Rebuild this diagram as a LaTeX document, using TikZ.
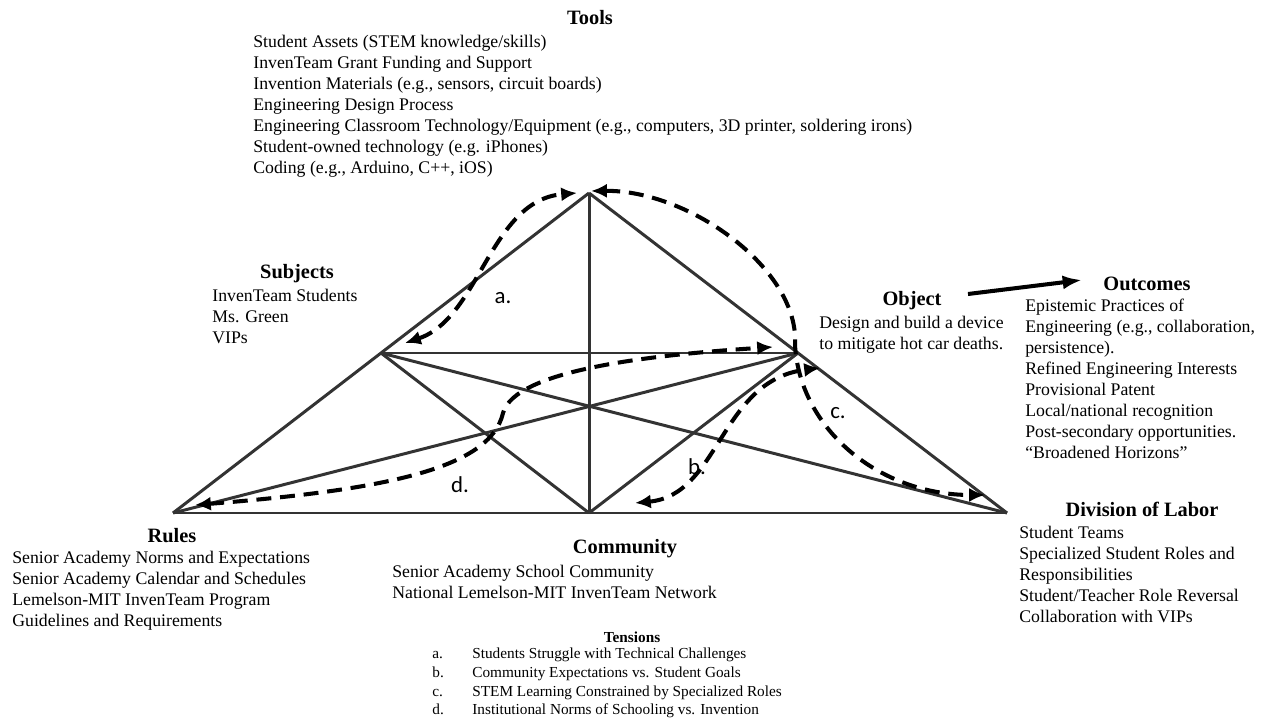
\documentclass[tikz,border=0pt]{standalone}
\usepackage{fontspec}
\setmainfont{Liberation Serif}
\newfontfamily\lblfont{Carlito}
\usetikzlibrary{arrows.meta}
\tikzset{
  frameline/.style={line width=1.7pt, draw=black!80},
  tensarrow/.style={line width=2.3pt, dash pattern=on 8.5pt off 5pt, {Latex[length=9pt,width=8pt]}-{Latex[length=9pt,width=8pt]}},
  ttl/.style={font=\fontsize{11.6}{12}\selectfont\bfseries, inner sep=0pt, anchor=center},
  lst/.style={font=\fontsize{10.1}{11.9}\selectfont, align=left, inner sep=0pt, anchor=north west},
  tlst/.style={font=\fontsize{8.7}{10.7}\selectfont, inner sep=0pt, anchor=north west},
  lbl/.style={font=\lblfont\fontsize{13}{14}\selectfont, inner sep=0pt},
}
\begin{document}
\begin{tikzpicture}[x=0.02cm,y=-0.02cm]
\useasboundingbox (0,0) rectangle (1263,719);
% vertices
\coordinate (T) at (589,193);
\coordinate (S) at (381,353);
\coordinate (O) at (798,353);
\coordinate (R) at (173,513);
\coordinate (C) at (589,513);
\coordinate (D) at (1007,513);
% frame
\draw[frameline] (T) -- (R);
\draw[frameline] (T) -- (D);
\draw[frameline] (R) -- (D);
\draw[frameline] (T) -- (C);
\draw[frameline] (S) -- (O);
\draw[frameline] (S) -- (C);
\draw[frameline] (S) -- (D);
\draw[frameline] (O) -- (C);
\draw[frameline] (O) -- (R);
% tension end points
\coordinate (a1) at (405,343);
\coordinate (a2) at (577,193);
\coordinate (c1) at (591,191);
\coordinate (cm) at (795,345);
\coordinate (c2) at (985,495);
\coordinate (b1) at (635,503);
\coordinate (b2) at (820,368);
\coordinate (d1) at (195,505);
\coordinate (dm) at (503,413);
\coordinate (d2) at (773,347);
\draw[tensarrow] (a1) .. controls (480,318) and (490,200) .. (a2);
\draw[tensarrow] (c1) .. controls (690,190) and (800,270) .. (cm) .. controls (800,430) and (880,495) .. (c2);
\draw[tensarrow] (b1) .. controls (720,495) and (720,380) .. (b2);
\draw[tensarrow] (d1) .. controls (380,490) and (490,470) .. (dm) .. controls (515,370) and (650,355) .. (d2);
\node[lbl] (la) at (503,298) {a.};
\node[lbl] (lb) at (697,467) {b.};
\node[lbl] (lc) at (838,413) {c.};
\node[lbl] (ld) at (460,485) {d.};
% Tools
\node[ttl] (toolsT) at (590,18) {Tools};
\node[lst] (toolsL) at (253,35) {Student Assets (STEM knowledge/skills)\\InvenTeam Grant Funding and Support\\Invention Materials (e.g., sensors, circuit boards)\\Engineering Design Process\\Engineering Classroom Technology/Equipment (e.g., computers, 3D printer, soldering irons)\\Student-owned technology (e.g. iPhones)\\Coding (e.g., Arduino, C++, iOS)};
% Subjects
\node[ttl] (subjT) at (297,274) {Subjects};
\node[lst] (subjL) at (212,289) {InvenTeam Students\\Ms. Green\\VIPs};
% Object
\node[ttl] (objT) at (912,301) {Object};
\node[lst] (objL) at (819,316) {Design and build a device\\to mitigate hot car deaths.};
% Outcomes
\node[ttl] (outT) at (1147,284) {Outcomes};
\node[lst] (outL) at (1025,299) {Epistemic Practices of\\Engineering (e.g., collaboration,\\persistence).\\Refined Engineering Interests\\Provisional Patent\\Local/national recognition\\Post-secondary opportunities.\\``Broadened Horizons''};
\coordinate (oa) at (968,294);
\coordinate (ob) at (1082,280);
\draw[line width=2.3pt, -{Latex[length=11pt,width=8pt]}] (oa) -- (ob);
% Division of Labor
\node[ttl] (divT) at (1142,509) {Division of Labor};
\node[lst] (divL) at (1019,526) {Student Teams\\Specialized Student Roles and\\Responsibilities\\Student/Teacher Role Reversal\\Collaboration with VIPs};
% Rules
\node[ttl] (rulT) at (172,536) {Rules};
\node[lst] (rulL) at (12,551) {Senior Academy Norms and Expectations\\Senior Academy Calendar and Schedules\\Lemelson-MIT InvenTeam Program\\Guidelines and Requirements};
% Community
\node[ttl] (comT) at (625,549) {Community};
\node[lst] (comL) at (392,565) {Senior Academy School Community\\National Lemelson-MIT InvenTeam Network};
% Tensions
\node[ttl, font=\fontsize{8.7}{10}\selectfont\bfseries] (tenT) at (632,637) {Tensions};
\node[tlst] (tenL) at (432,645) {\begin{tabular}{@{}p{0.8cm}@{}l@{}}
a. & Students Struggle with Technical Challenges\\
b. & Community Expectations vs. Student Goals\\
c. & STEM Learning Constrained by Specialized Roles\\
d. & Institutional Norms of Schooling vs. Invention
\end{tabular}};
\end{tikzpicture}
\end{document}
